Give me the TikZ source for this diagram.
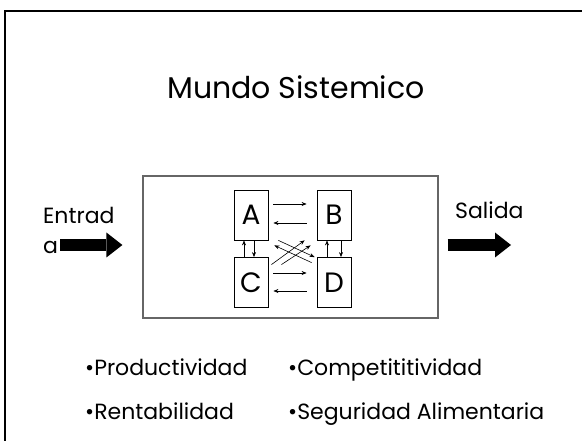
\documentclass[tikz,border=0pt]{standalone}
\usepackage{fontspec}
\setmainfont{Poppins}
\usetikzlibrary{arrows.meta}

\begin{document}
\begin{tikzpicture}[x=1pt,y=-1pt]
\tikzstyle{letra}=[draw,line width=0.8pt,minimum width=34pt,minimum height=50pt,inner sep=0pt,font=\fontsize{28}{30}\selectfont]
\tikzstyle{flecha}=[-{Stealth[length=5pt,width=4pt]},line width=0.6pt]
\tikzstyle{gruesa}=[line width=12pt,-{Triangle[width=25pt,length=16pt,line width=0pt 0 0]}]
\tikzstyle{texto}=[anchor=base west,inner sep=0pt,font=\fontsize{22}{24}\selectfont]
\useasboundingbox (0,0) rectangle (582,441);
\draw[line width=1.2pt] (5,441) -- (5,11) -- (582,11);

\path (296,99) node[texto,anchor=base,font=\fontsize{30}{34}\selectfont](titulo){Mundo Sistemico};

\path (290.5,247) node[draw=black!60,line width=1.2pt,minimum width=295pt,minimum height=142pt](sis){};
\path (251,215) node[letra](a){A} (334,215) node[letra](b){B}
      (251,282.5) node[letra](c){C} (334,282.5) node[letra](d){D};

\draw[flecha,shorten <=5pt,shorten >=10pt] ([yshift=11pt]a.east) -- ([yshift=11pt]b.west);
\draw[flecha,shorten <=10pt,shorten >=5pt] ([yshift=-8pt]b.west) -- ([yshift=-8pt]a.east);
\draw[flecha,shorten <=5pt,shorten >=10pt] ([yshift=9.5pt]c.east) -- ([yshift=9.5pt]d.west);
\draw[flecha,shorten <=10pt,shorten >=5pt] ([yshift=-8.5pt]d.west) -- ([yshift=-8.5pt]c.east);
\draw[flecha] ([xshift=-7pt]c.north) -- ([xshift=-7pt]a.south);
\draw[flecha] ([xshift=3pt]a.south) -- ([xshift=3pt]c.north);
\draw[flecha] ([xshift=-7pt]d.north) -- ([xshift=-7pt]b.south);
\draw[flecha] ([xshift=7pt]b.south) -- ([xshift=7pt]d.north);
\draw[flecha] ([xshift=10pt]a.south east) -- ([xshift=-2pt]d.north west);
\draw[flecha] ([xshift=-5pt,yshift=-5.5pt]d.north west) -- ([xshift=6pt,yshift=-5pt]a.south east);
\draw[flecha] ([xshift=3pt,yshift=-7.5pt]c.north east) -- ([xshift=-12pt]b.south west);
\draw[flecha] ([xshift=13pt,yshift=-7.5pt]c.north east) -- ([xshift=-6pt,yshift=-5pt]b.south west);

\path (43,224) node[texto](en1){Entrad} (43,254) node[texto](en2){a};
\path (455,219) node[texto](sa){Salida};
\coordinate (ent) at (60,245);
\coordinate (sal) at (511,245);
\draw[gruesa,shorten >=20pt] (ent) -- (ent -| sis.west);
\draw[gruesa,shorten <=9pt] (sal -| sis.east) -- (sal);

\path (85,375) node[texto](p1){•Productividad} (288,375) node[texto](p2){•Competititividad}
      (85,420) node[texto](p3){•Rentabilidad} (288,420) node[texto](p4){•Seguridad Alimentaria};
\end{tikzpicture}
\end{document}
